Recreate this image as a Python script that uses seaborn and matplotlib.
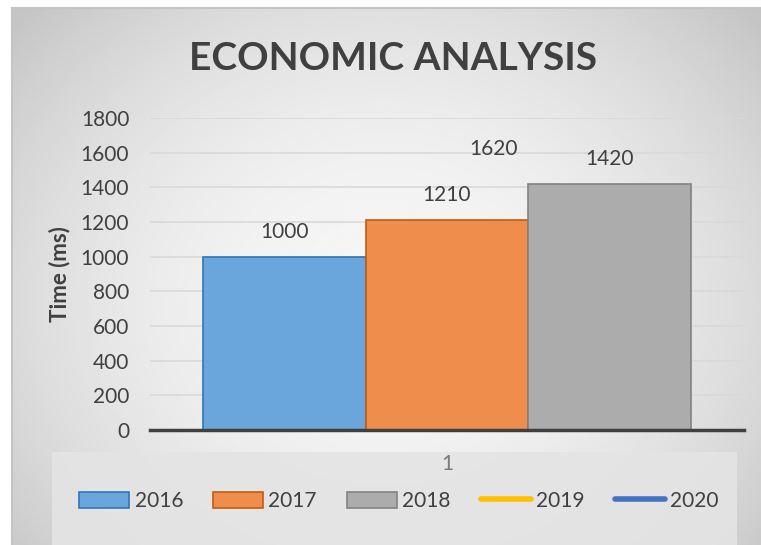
import numpy as np
import pandas as pd
import matplotlib
matplotlib.use("Agg")
import matplotlib.pyplot as plt
import seaborn as sns
from matplotlib.patches import Rectangle
from matplotlib.lines import Line2D

# ---- data ----
categories = ["1"]
bar_years = ["2016", "2017", "2018"]
bar_values = [1000, 1210, 1420]
line_years = ["2019", "2020"]
line_values = [1620, np.nan]
y_ticks = [0, 200, 400, 600, 800, 1000, 1200, 1400, 1600, 1800]
title_text = "ECONOMIC ANALYSIS"
y_label = "Time (ms)"

bar_colors = ["#6aa5db", "#ee8d4c", "#acacac"]
bar_edges = ["#2e75b6", "#c55a11", "#828282"]
line_colors = ["#ffc000", "#4472c4"]

sns.set_theme(style="white")
plt.rcParams["font.family"] = ["Lato", "DejaVu Sans"]
text_color = "#404040"
FS = 15

W, H = 761, 545
fig = plt.figure(figsize=(W / 100, H / 100), dpi=100)
fig.patch.set_facecolor("white")

# background radial gradient (chart area)
bg = fig.add_axes([12 / W, 0, 1 - 12 / W, 1 - 8 / H], zorder=0)
yy, xx = np.mgrid[0:1:300j, 0:1:400j]
r = np.sqrt(((xx - 0.5) / 0.62) ** 2 + ((yy - 0.55) / 0.75) ** 2)
val = np.clip(0.965 - 0.17 * r ** 2, 0.77, 0.97)
bg.imshow(val, cmap="gray", vmin=0, vmax=1, aspect="auto", extent=[0, 1, 0, 1])
bg.set_xlim(0, 1)
bg.set_ylim(0, 1)
for s in bg.spines.values():
    s.set_visible(False)
for s in ["top", "left"]:
    bg.spines[s].set_visible(True)
    bg.spines[s].set_color("#c4c4c4")
    bg.spines[s].set_linewidth(1.5)
bg.set_xticks([])
bg.set_yticks([])

# lighter legend/x-axis-label box
fig.patches.append(Rectangle((52 / W, 0), 685 / W, 93 / H, transform=fig.transFigure,
                             facecolor="#e4e4e4", edgecolor="none", zorder=0.5, alpha=0.9))

ax = fig.add_axes([150 / W, 1 - 430 / H, (744 - 150) / W, (430 - 118) / H], zorder=2)
ax.patch.set_alpha(0)

df = pd.DataFrame({"cat": categories * len(bar_years), "year": bar_years, "value": bar_values})
sns.barplot(data=df, x="cat", y="value", hue="year", palette=bar_colors, width=0.822,
            ax=ax, legend=False, saturation=1)
for patch, ec in zip(ax.patches, bar_edges):
    patch.set_edgecolor(ec)
    patch.set_linewidth(1.2)
    patch.set_zorder(3)
    ax.annotate(f"{int(patch.get_height())}",
                (patch.get_x() + patch.get_width() / 2, patch.get_height()),
                xytext=(0, 25), textcoords="offset pixels", ha="center", va="center",
                fontsize=FS, color=text_color)

# line series (single point each)
for yr, v, c in zip(line_years, line_values, line_colors):
    ax.plot([0], [v], color=c, lw=4, solid_capstyle="round")
    if not np.isnan(v):
        ax.annotate(f"{int(v)}", (0, v), xytext=(22, 0), textcoords="offset pixels",
                    ha="left", va="center", fontsize=FS, color=text_color)

ax.set_xlim(-0.5, 0.5)
ax.set_ylim(0, 1800)
ax.set_yticks(y_ticks)
ax.set_yticklabels([str(t) for t in y_ticks], fontsize=FS, color=text_color)
ax.tick_params(axis="y", length=0, pad=15)
ax.tick_params(axis="x", length=0, pad=17, labelsize=FS, labelcolor="#7a7a7a")
ax.set_xlabel("")
ax.set_ylabel(y_label, fontsize=16, fontweight="bold", color=text_color)
ax.yaxis.set_label_coords(-(150 - 70) / (744 - 150), 0.50)
ax.grid(axis="y", color="#d9d9d9", lw=1.2, zorder=0)
ax.set_axisbelow(True)
for s in ["top", "right", "left"]:
    ax.spines[s].set_visible(False)
ax.spines["bottom"].set_color("#404040")
ax.spines["bottom"].set_linewidth(2.5)
ax.spines["bottom"].set_zorder(5)

fig.text(393 / W, 1 - 58 / H, title_text, ha="center", va="center", fontsize=28,
         fontweight="bold", color=text_color)

handles = [Rectangle((0, 0), 1, 1, facecolor=c, edgecolor=e, lw=1.2) for c, e in zip(bar_colors, bar_edges)]
handles += [Line2D([0], [0], color=c, lw=4, solid_capstyle="round") for c in line_colors]
fig.legend(handles, bar_years + line_years, loc="center", bbox_to_anchor=(399 / W, 1 - 501 / H),
           ncol=5, frameon=False, fontsize=FS, handlelength=2.4, handleheight=0.8,
           handletextpad=0.25, columnspacing=1.45, labelcolor=text_color)

fig.savefig("out.png", dpi=100)
